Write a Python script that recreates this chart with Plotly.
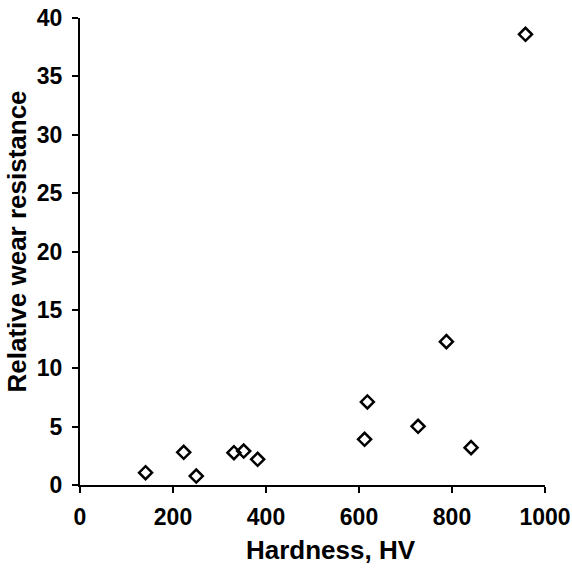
import plotly.graph_objects as go

hardness = [141, 223, 250, 331, 352, 382, 612, 618, 727, 788, 841, 958]
wear_resistance = [1.05, 2.8, 0.77, 2.77, 2.91, 2.2, 3.91, 7.11, 5.03, 12.28, 3.2, 38.6]

x_ticks = [0, 200, 400, 600, 800, 1000]
y_ticks = [0, 5, 10, 15, 20, 25, 30, 35, 40]
x_title = "Hardness, HV"
y_title = "Relative wear resistance"

FONT = "Liberation Sans, Arial, sans-serif"
W, H = 572, 570

fig = go.Figure(go.Scatter(
    x=hardness, y=wear_resistance, mode="markers",
    marker=dict(symbol="diamond-open", size=10, color="black",
                line=dict(color="black", width=2.5)),
    cliponaxis=False, showlegend=False,
))

axis_common = dict(
    showgrid=False, zeroline=False, showline=True, linecolor="black", linewidth=2,
    ticks="outside", ticklen=6, tickwidth=2, tickcolor="black",
    tickfont=dict(family=FONT, size=23, color="black", weight="bold"),
)

fig.update_xaxes(range=[0, 1000], tickvals=x_ticks, ticktext=[str(v) for v in x_ticks],
                 ticklabelstandoff=4, **axis_common)
fig.update_yaxes(range=[0, 40], tickvals=y_ticks, ticktext=[str(v) for v in y_ticks],
                 ticklabelstandoff=5, **axis_common)

title_font = dict(family=FONT, size=26, color="black", weight="bold")
fig.add_annotation(text=x_title, xref="paper", yref="paper",
                   x=(331 - 80) / (W - 80 - 27), y=-(550 - 485) / (485 - 18),
                   xanchor="center", yanchor="middle", showarrow=False, font=title_font)
fig.add_annotation(text=y_title, xref="paper", yref="paper", textangle=-90,
                   x=-(80 - 17) / (W - 80 - 27), y=(485 - 241.5) / (485 - 18),
                   xanchor="center", yanchor="middle", showarrow=False, font=title_font)

fig.update_layout(
    width=W, height=H,
    margin=dict(l=80, r=27, t=18, b=85, autoexpand=False),
    plot_bgcolor="white", paper_bgcolor="white",
)

fig.write_html("out.html")
